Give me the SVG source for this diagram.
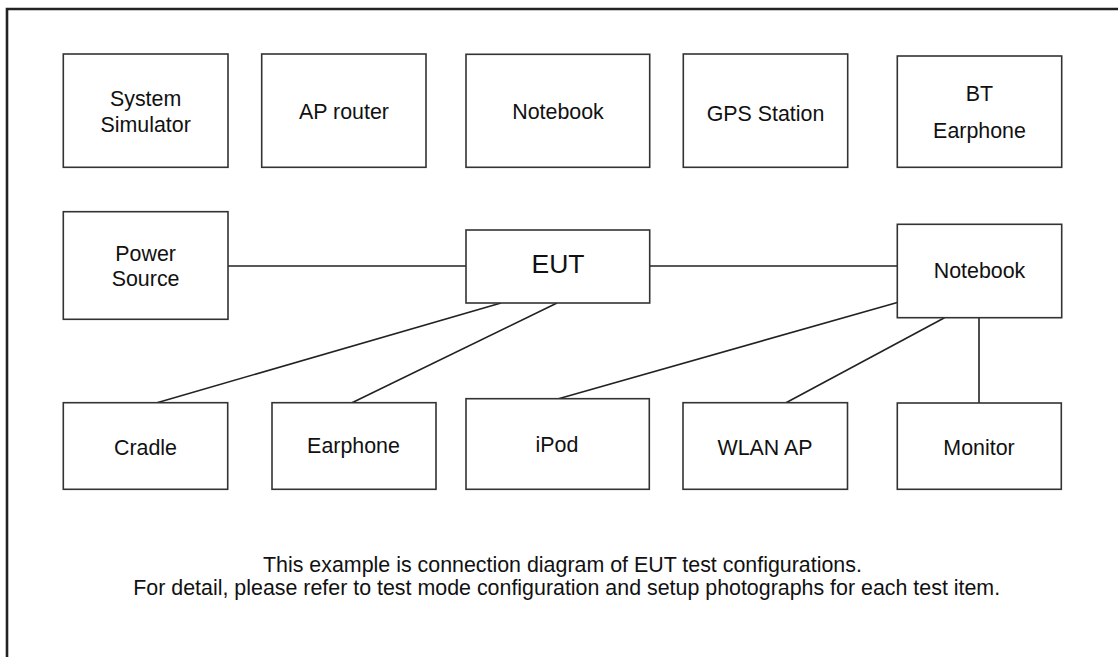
<svg xmlns="http://www.w3.org/2000/svg" width="1118" height="657" viewBox="0 0 1118 657">
<style>
.box{fill:#fff;stroke:#333;stroke-width:1.6}
.lbl{font-family:"Liberation Sans",Arial,sans-serif;font-size:21.4px;fill:#111;text-anchor:middle}
.eut{font-size:26.5px}
.cap{font-family:"Liberation Sans",Arial,sans-serif;font-size:21.4px;fill:#111}
.conn line{stroke:#222;stroke-width:1.6}
</style>
<rect width="1118" height="657" fill="#fff"/>
<path d="M7,657 V9 H1118" fill="none" stroke="#222" stroke-width="2.6"/>
<g class="conn" id="connectors">
<line x1="228" y1="266" x2="466" y2="266"/>
<line x1="649.7" y1="266" x2="897.3" y2="266"/>
<line x1="501" y1="303" x2="157" y2="402.7"/>
<line x1="557" y1="303" x2="352" y2="402.7"/>
<line x1="897.3" y1="302.5" x2="558.5" y2="398.7"/>
<line x1="944.5" y1="317.7" x2="786" y2="402.7"/>
<line x1="979" y1="317.7" x2="979" y2="403"/>
</g>
<g id="system-simulator"><rect class="box" x="63.3" y="54" width="164.7" height="113.3"/><text class="lbl" x="145.6" y="106">System</text><text class="lbl" x="145.6" y="131.7">Simulator</text></g>
<g id="ap-router"><rect class="box" x="261.7" y="54" width="164.3" height="113.3"/><text class="lbl" x="344" y="119.3">AP router</text></g>
<g id="notebook-top"><rect class="box" x="466" y="54.3" width="183.7" height="113"/><text class="lbl" x="558" y="119.3">Notebook</text></g>
<g id="gps-station"><rect class="box" x="683.3" y="54" width="164.4" height="113.3"/><text class="lbl" x="765.5" y="120.7">GPS Station</text></g>
<g id="bt-earphone"><rect class="box" x="897.3" y="56" width="164.4" height="111.3"/><text class="lbl" x="979.5" y="101">BT</text><text class="lbl" x="979.5" y="138.3">Earphone</text></g>
<g id="power-source"><rect class="box" x="63.3" y="211.7" width="164.7" height="107.6"/><text class="lbl" x="145.6" y="261">Power</text><text class="lbl" x="145.6" y="286">Source</text></g>
<g id="eut"><rect class="box" x="466" y="230" width="183.7" height="73"/><text class="lbl eut" x="558" y="273.3">EUT</text></g>
<g id="notebook-right"><rect class="box" x="897.3" y="224.3" width="164.4" height="93.4"/><text class="lbl" x="979.5" y="278.3">Notebook</text></g>
<g id="cradle"><rect class="box" x="63.3" y="402.7" width="164.4" height="86.6"/><text class="lbl" x="145.5" y="455">Cradle</text></g>
<g id="earphone"><rect class="box" x="272" y="402.7" width="164" height="86.6"/><text class="lbl" x="353.5" y="453.3">Earphone</text></g>
<g id="ipod"><rect class="box" x="466" y="398.7" width="183.3" height="90.6"/><text class="lbl" x="557" y="452.3">iPod</text></g>
<g id="wlan-ap"><rect class="box" x="683" y="402.7" width="164.5" height="86.6"/><text class="lbl" x="765" y="455">WLAN AP</text></g>
<g id="monitor"><rect class="box" x="897.3" y="403" width="164" height="86.3"/><text class="lbl" x="979" y="455">Monitor</text></g>
<g id="caption">
<text class="cap" x="263" y="571.7">This example is connection diagram of EUT test configurations.</text>
<text class="cap" x="133.3" y="594.5">For detail, please refer to test mode configuration and setup photographs for each test item.</text>
</g>
</svg>
